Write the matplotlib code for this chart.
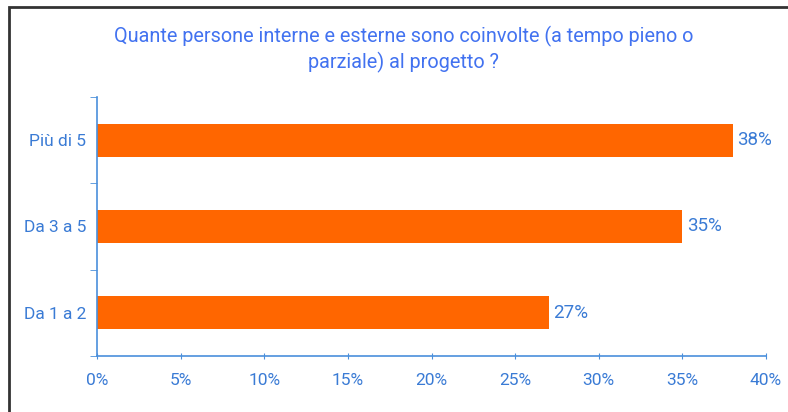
import matplotlib
matplotlib.use("Agg")
import matplotlib.pyplot as plt
from matplotlib.patches import Rectangle
from matplotlib.ticker import FixedLocator, PercentFormatter

# Data
categories = ["Da 1 a 2", "Da 3 a 5", "Più di 5"]
values = [27, 35, 38]
x_ticks = [0, 5, 10, 15, 20, 25, 30, 35, 40]

title = "Quante persone interne e esterne sono coinvolte (a tempo pieno o\nparziale) al progetto ?"

bar_color = "#FF6600"
text_color = "#3A7BD5"
title_color = "#4272F0"
axis_color = "#4A8FDB"

plt.rcParams["font.family"] = ["Roboto", "DejaVu Sans"]

fig = plt.figure(figsize=(7.88, 4.12), dpi=100)
ax = fig.add_axes([0.1231, 0.1359, 0.9721 - 0.1231, 0.7646 - 0.1359])

y = range(len(categories))
ax.barh(y, values, height=0.38, color=bar_color)

for yi, v in zip(y, values):
    ax.text(v + 0.3, yi, f"{v}%", va="center", ha="left",
            color=text_color, fontsize=13.5)

ax.set_xlim(0, 40)
ax.set_ylim(-0.5, len(categories) - 0.5)
ax.set_xticks(x_ticks)
ax.xaxis.set_major_formatter(PercentFormatter(decimals=0))

# category labels centred, tick marks on boundaries
ax.set_yticks(list(y))
ax.set_yticklabels(categories)
ax.yaxis.set_minor_locator(FixedLocator([-0.5, 0.5, 1.5, 2.5]))
ax.tick_params(axis="y", which="major", length=0, pad=8,
               labelcolor=text_color, labelsize=12.5)
ax.tick_params(axis="y", which="minor", length=5, color=axis_color,
               direction="out")
ax.tick_params(axis="x", length=4, direction="inout", color=axis_color,
               labelcolor=text_color, labelsize=12.5, pad=10)

for side in ["top", "right"]:
    ax.spines[side].set_visible(False)
for side in ["left", "bottom"]:
    ax.spines[side].set_color(axis_color)
    ax.spines[side].set_linewidth(1.2)

fig.text(0.512, 0.88, title, ha="center", va="center", color=title_color,
         fontsize=14.3, linespacing=1.3)

# chart frame (only top and left edges are visible)
fig.patches.append(Rectangle((8.5 / 788, -0.1), 1.2, (412 - 6.5) / 412 + 0.1,
                             transform=fig.transFigure, fill=False,
                             edgecolor="#333333", linewidth=2))

fig.savefig("out.png", dpi=100)
